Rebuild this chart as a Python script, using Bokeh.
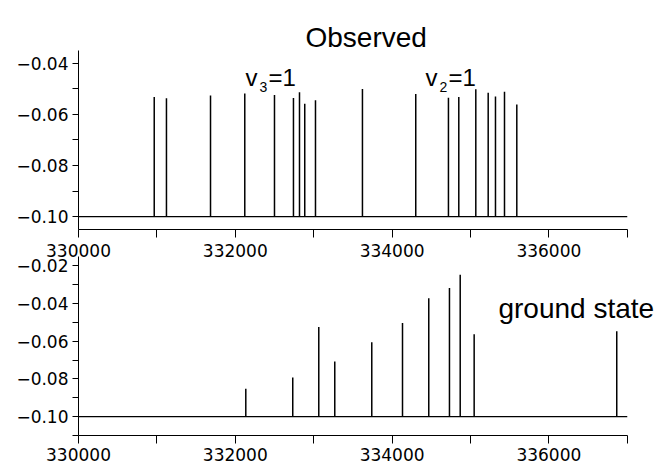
from bokeh.plotting import figure
from bokeh.layouts import column
from bokeh.models import (Label, FixedTicker, CustomJSTickFormatter, PrintfTickFormatter,
                          Range1d, LinearAxis)
from bokeh.embed import file_html
from bokeh.resources import INLINE

# ---- data ----
obs_x = [330966, 331122, 331684, 332121, 332500, 332742, 332819, 332886, 333023,
         333622, 334302, 334719, 334851, 335068, 335226, 335319, 335434, 335591]
obs_y = [-0.0532, -0.0537, -0.0526, -0.0518, -0.0524, -0.0536, -0.0513, -0.0558, -0.0545,
         -0.0501, -0.0520, -0.0535, -0.0532, -0.0502, -0.0515, -0.0530, -0.0511, -0.0561]

gs_x = [332134, 332733, 333065, 333269, 333741, 334133, 334468, 334732, 334869, 335047, 336866]
gs_y = [-0.0852, -0.0792, -0.0524, -0.0707, -0.0605, -0.0503, -0.0372, -0.0317, -0.0247,
        -0.0562, -0.0547]

baseline = -0.10
x_lo, x_hi = 330000, 337000
x_major = [330000, 332000, 334000, 336000]
x_minor = [331000, 333000, 335000, 337000]
y_major_top = [-0.10, -0.08, -0.06, -0.04]
y_minor_top = [-0.09, -0.07, -0.05]
y_major_bot = [-0.10, -0.08, -0.06, -0.04, -0.02]
y_minor_bot = [-0.11, -0.09, -0.07, -0.05, -0.03]

TICK_FONT = "DejaVu Sans"
LABEL_FONT = "Liberation Sans"

yfmt = CustomJSTickFormatter(code="""
    const s = Math.abs(tick).toFixed(2);
    return (tick < 0 ? "\u2212" : "") + s;
""")

# visible frame extends past the axes so that the text labels are not clipped
X_VIEW_END = 337475


def style_axis(ax):
    ax.axis_line_color = "black"
    ax.major_tick_line_color = "black"
    ax.minor_tick_line_color = "black"
    ax.major_tick_in = 0
    ax.minor_tick_in = 0
    ax.major_label_text_font = TICK_FONT
    ax.major_label_text_color = "black"


def make_fig(height, y_bounds, y_view, ymaj, ymin, border_top, border_bottom):
    p = figure(width=664, height=height, output_backend="svg", toolbar_location=None,
               x_range=Range1d(x_lo, X_VIEW_END), y_range=Range1d(*y_view),
               min_border_left=78, min_border_right=0,
               min_border_top=border_top, min_border_bottom=border_bottom)
    p.outline_line_color = None
    p.grid.visible = False
    p.background_fill_color = "white"
    p.border_fill_color = "white"
    p.xaxis.ticker = FixedTicker(ticks=x_major, minor_ticks=x_minor)
    p.yaxis.ticker = FixedTicker(ticks=ymaj, minor_ticks=ymin)
    p.xaxis.formatter = PrintfTickFormatter(format="%d")
    p.yaxis.formatter = yfmt
    p.xaxis.bounds = (x_lo, x_hi)
    p.yaxis.bounds = y_bounds
    style_axis(p.xaxis[0])
    style_axis(p.yaxis[0])
    p.xaxis.major_tick_out = 8
    p.xaxis.minor_tick_out = 8
    p.xaxis.major_label_text_font_size = "17px"
    p.xaxis.major_label_standoff = 4
    p.yaxis.major_tick_out = 6
    p.yaxis.minor_tick_out = 6
    p.yaxis.major_label_text_font_size = "17px"
    p.yaxis.major_label_standoff = 4
    p.segment(x0=[x_lo], y0=[baseline], x1=[x_hi], y1=[baseline],
              line_color="black", line_width=1.2)
    return p


# top panel: only tick marks on its own x axis; its tick labels are drawn just below it
# (in the lower figure's top border, where the original lets them overlap the lower panel)
top = make_fig(238, (-0.105, -0.035), (-0.105, -0.01545), y_major_top, y_minor_top, 0, 9)
top.xaxis.ticker = FixedTicker(ticks=[], minor_ticks=x_major + x_minor)
top.xaxis.major_label_standoff = 0
top.segment(x0=obs_x, y0=[baseline] * len(obs_x), x1=obs_x, y1=obs_y,
            line_color="black", line_width=1.5)

bot = make_fig(227, (-0.11, -0.015), (-0.11, -0.015), y_major_bot, y_minor_bot, 18, 30)
top_labels = LinearAxis(ticker=FixedTicker(ticks=x_major), formatter=PrintfTickFormatter(format="%d"),
                        axis_line_color=None, major_tick_line_color=None,
                        minor_tick_line_color=None, major_tick_out=0, major_tick_in=0,
                        major_label_standoff=0, major_label_text_font=TICK_FONT,
                        major_label_text_font_size="17px", major_label_text_color="black")
bot.add_layout(top_labels, "above")
bot.segment(x0=gs_x, y0=[baseline] * len(gs_x), x1=gs_x, y1=gs_y,
            line_color="black", line_width=1.5)

# ---- text labels ----
top.add_layout(Label(x=332895, y=-0.0300, text="Observed", text_font=LABEL_FONT,
                     text_font_size="28px", text_color="black", text_baseline="alphabetic"))


def vib_label(p, x, y, sub):
    p.add_layout(Label(x=x, y=y, text="v", text_font=LABEL_FONT, text_font_size="24px",
                       text_color="black", text_baseline="alphabetic"))
    p.add_layout(Label(x=x, y=y, x_offset=14, y_offset=-10, text=sub, text_font=LABEL_FONT,
                       text_font_size="14px", text_color="black", text_baseline="alphabetic"))
    p.add_layout(Label(x=x, y=y, x_offset=23, text="=1", text_font=LABEL_FONT,
                       text_font_size="24px", text_color="black", text_baseline="alphabetic"))


vib_label(top, 332130, -0.04544, "3")
vib_label(top, 334426, -0.04544, "2")

bot.add_layout(Label(x=335357, y=-0.0426, text="ground state", text_font=LABEL_FONT,
                     text_font_size="28px", text_color="black", text_baseline="alphabetic"))

layout = column(top, bot, spacing=0)
open("out.html", "w").write(file_html(layout, INLINE))
